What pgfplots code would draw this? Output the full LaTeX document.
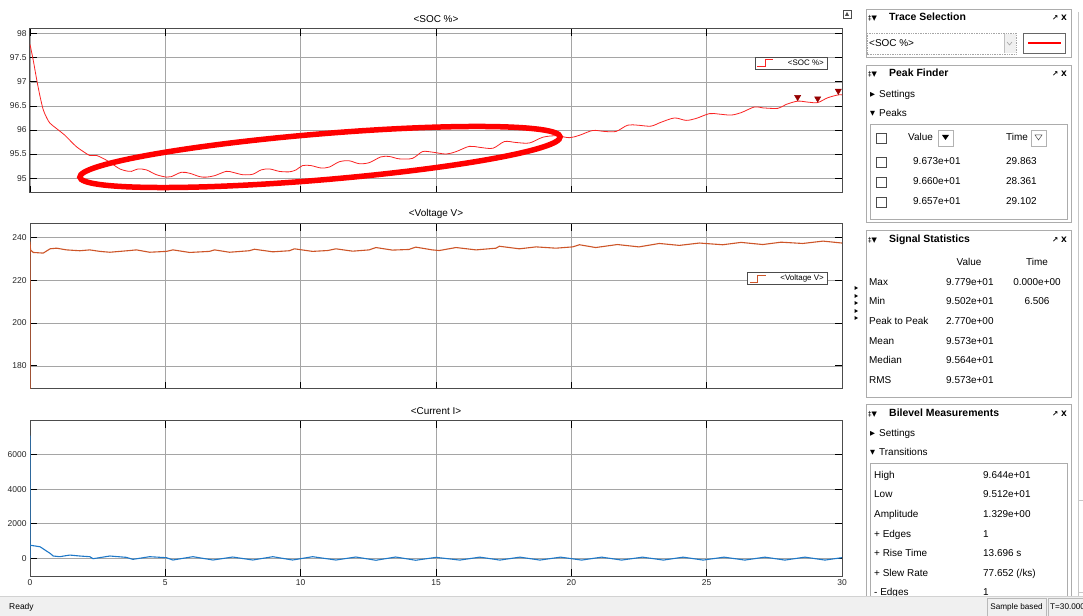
\documentclass[border=0pt]{standalone}
\usepackage{pgfplots}
\pgfplotsset{compat=1.18}
\usepackage{fontspec}
\setmainfont{Liberation Sans}
\newfontfamily\symf{DejaVu Sans}
\definecolor{socred}{RGB}{250,35,35}
\definecolor{voltc}{RGB}{205,85,40}
\definecolor{curc}{RGB}{30,120,200}
\definecolor{peakc}{RGB}{150,0,0}
\definecolor{gridc}{RGB}{165,165,165}
\newcommand\titlef{\fontsize{10.5}{12}\selectfont\bfseries}
\newcommand\pf{\fontsize{10}{12}\selectfont}
\tikzset{t/.style={anchor=west, font=\pf, inner sep=0, text height=7.2bp, text depth=2bp},
         tc/.style={font=\pf, inner sep=0, text height=7.2bp, text depth=2bp},
         tt/.style={anchor=west, font=\titlef, inner sep=0, text height=7.6bp, text depth=2bp}}
\pgfplotsset{scopeax/.style={
  scale only axis, width=812bp, xmin=0, xmax=30, xtick={0,5,...,30},
  grid=major, grid style={gridc, line width=0.7bp},
  axis line style={black!70, line width=1bp},
  tick align=inside, major tick length=7bp, tick style={black, line width=0.8bp},
  ticklabel style={font=\fontsize{8.5}{10}\selectfont, text=black!85},
  /pgf/number format/assume math mode=true, /pgf/number format/1000 sep={},
  scaled ticks=false,
  title style={font=\fontsize{10}{12}\selectfont, at={(0.5,1)}, anchor=center, yshift=4bp},
  legend style={draw=black!70, line width=0.8bp, font=\fontsize{8}{9}\selectfont,
    inner xsep=2bp, inner ysep=0.5bp, anchor=north east},
  legend image code/.code={\draw[##1, line width=1bp] (0bp,-3.5bp) -- (8bp,-3.5bp) -- (8bp,3.5bp) -- (16bp,3.5bp);},
}}
\begin{document}
\begin{tikzpicture}
\useasboundingbox (0,0) rectangle (1083bp,616bp);
\fill[white] (0,0) rectangle (1083bp,616bp);

% ---------- SOC ----------
\begin{axis}[scopeax, at={(30bp,423bp)}, anchor=south west, height=164bp,
  ymin=94.69, ymax=98.1, ytick={95,95.5,96,96.5,97,97.5,98}, xticklabels={},
  title={<SOC \%>}, clip mode=individual,
  legend style={at={(0.983,0.829)}}]
\addplot[socred, line width=0.8bp, smooth, tension=0.5] coordinates {
(0,97.78) (0.12,97.45) (0.25,97.04) (0.37,96.7) (0.49,96.42) (0.62,96.25) (0.74,96.14)
(0.98,96.03) (1.29,95.89) (1.5,95.77) (1.72,95.65) (2.0,95.54) (2.21,95.47) (2.46,95.47)
(2.83,95.37) (3.1,95.27) (3.32,95.19) (3.55,95.15) (3.75,95.14) (3.99,95.19) (4.3,95.17)
(4.67,95.07) (5.04,95.02) (5.22,95.03) (5.59,95.12) (5.9,95.10) (6.27,95.03) (6.51,95.02)
(6.82,95.05) (7.25,95.14) (7.49,95.12) (7.86,95.07) (8.23,95.08) (8.54,95.17) (8.85,95.19)
(9.21,95.14) (9.58,95.13) (9.83,95.17) (10.07,95.26) (10.38,95.26) (10.75,95.21) (11.06,95.23)
(11.43,95.34) (11.79,95.36) (12.16,95.30) (12.53,95.32) (12.96,95.44) (13.27,95.45) (13.64,95.40)
(14.13,95.41) (14.5,95.55) (14.86,95.54) (15.37,95.50) (15.74,95.55) (16.23,95.66) (16.6,95.64)
(17.1,95.62) (17.53,95.76) (17.96,95.74) (18.45,95.73) (18.95,95.85) (19.44,95.88) (19.93,95.84)
(20.3,95.89) (20.79,95.99) (21.22,95.97) (21.65,95.97) (22.08,96.10) (22.45,96.10) (22.94,96.08)
(23.31,96.16) (23.81,96.25) (24.24,96.20) (24.61,96.24) (25.1,96.34) (25.47,96.33) (25.9,96.31)
(26.27,96.36) (26.77,96.48) (27.07,96.46) (27.63,96.45) (27.93,96.53) (28.36,96.60) (28.73,96.58)
(29.1,96.57) (29.47,96.67) (29.86,96.73) (30,96.73)};
\addlegendentry{\hspace*{12bp}<SOC \%>}
\addplot[only marks, forget plot, mark=triangle*, mark size=3.6bp,
  mark options={yshift=4bp, rotate=180, fill=peakc, draw=peakc}] coordinates {
(28.361,96.60) (29.102,96.57) (29.863,96.73)};
\end{axis}

% ---------- Voltage ----------
\begin{axis}[scopeax, at={(30bp,227bp)}, anchor=south west, height=165bp,
  ymin=169.2, ymax=246.3, ytick={180,200,220,240}, xticklabels={},
  title={<Voltage V>},
  legend style={at={(0.983,0.709)}}]
\addplot[voltc, line width=1.1bp] coordinates {
(0,150) (0,238) (0.02,234.2) (0.12,233.0) (0.49,232.7) (0.74,234.7) (0.98,235.0) (1.35,234.2)
(1.84,233.8) (2.21,234.2) (2.58,233.5) (2.95,233.1) (3.69,233.9) (3.93,234.2) (4.42,233.1)
(5.04,233.5) (5.28,234.2) (5.9,233.0) (6.63,233.5) (6.82,234.2) (7.37,233.1) (8.1,233.8)
(8.29,234.5) (8.97,233.3) (9.58,233.8) (9.77,234.7) (10.44,233.5) (11.0,233.9) (11.3,234.7)
(11.92,233.6) (12.53,234.2) (12.78,235.3) (13.39,234.1) (14.0,234.4) (14.25,235.5) (14.86,234.2)
(15.12,233.9) (15.74,235.3) (16.48,234.2) (17.22,235.0) (17.34,235.9) (18.08,234.7) (18.7,235.6)
(19.43,235.0) (20.05,235.6) (20.3,236.6) (20.9,235.3) (21.7,236.7) (22.5,235.6) (23.25,237.2)
(23.99,236.3) (24.73,237.4) (25.59,236.6) (26.27,237.7) (27.07,236.7) (27.75,237.8) (28.55,237.2)
(29.3,238.3) (30.0,237.4)};
\addlegendentry{\hspace*{12bp}<Voltage V>}
\end{axis}

% ---------- Current ----------
\begin{axis}[scopeax, at={(30bp,40bp)}, anchor=south west, height=155bp,
  ymin=-1020, ymax=7940, ytick={0,2000,4000,6000},
  title={<Current I>}]
\addplot[curc, line width=1.1bp] coordinates {
(0,0) (0,7100) (0.005,760) (0.37,670) (0.74,290) (0.86,135) (1.1,96) (1.47,190) (1.84,135)
(2.21,96) (2.33,-20) (2.95,135) (3.56,58) (3.8,-58) (4.42,96) (5.04,38) (5.28,-96) (6.02,96)
(6.76,-96) (7.49,77) (8.23,-96) (8.97,96) (9.7,-96) (10.44,96) (11.3,-96) (12.04,77) (12.78,-110)
(13.51,77) (14.25,-110) (15.0,58) (15.88,-100) (16.62,70) (17.36,-100) (18.1,70) (18.84,-100)
(19.6,70) (20.38,-100) (21.12,70) (21.86,-100) (22.63,70) (23.4,-100) (24.13,70) (24.87,-100)
(25.64,70) (26.41,-100) (27.15,70) (27.89,-100) (28.63,70) (29.37,-100) (30,40)};
\end{axis}

% ---------- annotations and UI (pixel coordinates, y downward) ----------
\begin{scope}[x=1bp, y=-1bp, yshift=616bp]
\draw[red, line width=5.5bp, rotate around={4.8:(320,157)}] (320,157) ellipse [x radius=241, y radius=23];

% small icons near plots
\draw[black!70, line width=0.6bp] (843,10) rectangle (851,18);
\fill[black!70] (845,16) -- (847,12) -- (849,16) -- cycle;
\foreach \yy in {288,296,303,311,318} {\fill[black] (854.5,\yy-2) -- (858,\yy) -- (854.5,\yy+2) -- cycle;}

% scrollbar
\draw[gray!45, line width=0.7bp] (1078,12) -- (1078,596);
\draw[gray!45, line width=0.7bp] (1078,500) rectangle (1084,592);

% Trace Selection
\draw[gray!65, line width=0.8bp] (866,9) rectangle (1071,57);
\node[anchor=west, font={\symf\fontsize{7}{8}\selectfont}, inner sep=0] at (868,18) {‡▼};
\node[tt] at (889,18) {Trace Selection};
\node[anchor=east, font={\symf\fontsize{7.5}{8}\selectfont\bfseries}, inner sep=0] at (1067,18) {↗ X};
\draw[gray!70, densely dotted, line width=0.7bp] (867,33) rectangle (1016,54);
\fill[gray!12] (1004,34) rectangle (1015.5,53.5);
\draw[gray!50, line width=0.5bp] (1004,34) -- (1004,53.5);
\draw[gray!70, line width=0.6bp] (1007,42) -- (1009.5,45) -- (1012,42);
\node[t] at (869,44) {<SOC \%>};
\draw[black!60, line width=0.8bp] (1023,33) rectangle (1065,53);
\draw[red, line width=2.6bp] (1028,43) -- (1061,43);

% Peak Finder
\draw[gray!65, line width=0.8bp] (866,65) rectangle (1071,222);
\node[anchor=west, font={\symf\fontsize{7}{8}\selectfont}, inner sep=0] at (868,74) {‡▼};
\node[tt] at (889,74) {Peak Finder};
\node[anchor=east, font={\symf\fontsize{7.5}{8}\selectfont\bfseries}, inner sep=0] at (1067,74) {↗ X};
\node[anchor=west, font={\symf\fontsize{6.5}{8}\selectfont}, inner sep=0] at (870,95) {▶};
\node[t] at (879,95) {Settings};
\node[anchor=west, font={\symf\fontsize{6.5}{8}\selectfont}, inner sep=0] at (870,114) {▼};
\node[t] at (879,114) {Peaks};
\draw[gray!65, line width=0.8bp] (870,124) rectangle (1067,219);
\draw[black!70, line width=0.6bp] (876,133) rectangle (886,143);
\node[t] at (908,138) {Value};
\draw[gray!60, line width=0.6bp] (938,130) rectangle (953,146);
\fill[black] (942,135) -- (949,135) -- (945.5,140) -- cycle;
\node[t] at (1006,138) {Time};
\draw[gray!60, line width=0.6bp] (1031,130) rectangle (1046,146);
\draw[black!70, line width=0.5bp] (1035,135) -- (1042,135) -- (1038.5,140) -- cycle;
\foreach \yy/\vv/\tt in {162/9.673e+01/29.863, 182/9.660e+01/28.361, 202/9.657e+01/29.102} {
  \draw[black!70, line width=0.6bp] (876,\yy-5) rectangle (886,\yy+5);
  \node[t] at (913,\yy) {\vv};
  \node[t] at (1006,\yy) {\tt};
}

% Signal Statistics
\draw[gray!65, line width=0.8bp] (866,230) rectangle (1071,397);
\node[anchor=west, font={\symf\fontsize{7}{8}\selectfont}, inner sep=0] at (868,240) {‡▼};
\node[tt] at (889,240) {Signal Statistics};
\node[anchor=east, font={\symf\fontsize{7.5}{8}\selectfont\bfseries}, inner sep=0] at (1067,240) {↗ X};
\node[tc] at (969,263) {Value};
\node[tc] at (1037,263) {Time};
\foreach \yy/\ll/\vv in {283/Max/9.779e+01, 302/Min/9.502e+01, 322/Peak to Peak/2.770e+00,
   342/Mean/9.573e+01, 361/Median/9.564e+01, 381/RMS/9.573e+01} {
  \node[t] at (869,\yy) {\ll};
  \node[t] at (946,\yy) {\vv};
}
\node[tc] at (1037,283) {0.000e+00};
\node[tc] at (1037,302) {6.506};

% Bilevel Measurements
\draw[gray!65, line width=0.8bp] (866,404) rectangle (1071,610);
\node[anchor=west, font={\symf\fontsize{7}{8}\selectfont}, inner sep=0] at (868,414) {‡▼};
\node[tt] at (889,414) {Bilevel Measurements};
\node[anchor=east, font={\symf\fontsize{7.5}{8}\selectfont\bfseries}, inner sep=0] at (1067,414) {↗ X};
\node[anchor=west, font={\symf\fontsize{6.5}{8}\selectfont}, inner sep=0] at (870,434) {▶};
\node[t] at (879,434) {Settings};
\node[anchor=west, font={\symf\fontsize{6.5}{8}\selectfont}, inner sep=0] at (870,453) {▼};
\node[t] at (879,453) {Transitions};
\draw[gray!65, line width=0.8bp] (870,463) rectangle (1067,610);
\foreach \yy/\ll/\vv in {476/High/9.644e+01, 495/Low/9.512e+01, 515/Amplitude/1.329e+00,
   535/+ Edges/1, 554/+ Rise Time/13.696 s, 574/+ Slew Rate/{77.652 (/ks)}, 593/- Edges/1} {
  \node[t] at (874,\yy) {\ll};
  \node[t] at (983,\yy) {\vv};
}

% status bar
\fill[gray!12] (0,596) rectangle (1083,616);
\draw[gray!35, line width=0.6bp] (0,596) -- (1083,596);
\node[anchor=west, font=\fontsize{8.5}{10}\selectfont, inner sep=0] at (9,607) {Ready};
\draw[gray!55, line width=0.6bp] (987,598) rectangle (1046,616);
\node[font=\fontsize{8.2}{10}\selectfont, inner sep=0] at (1016.5,607) {Sample based};
\draw[gray!55, line width=0.6bp] (1048,598) rectangle (1090,616);
\node[anchor=west, font=\fontsize{8.2}{10}\selectfont, inner sep=0] at (1050,607) {T=30.000};
\end{scope}
\end{tikzpicture}
\end{document}
